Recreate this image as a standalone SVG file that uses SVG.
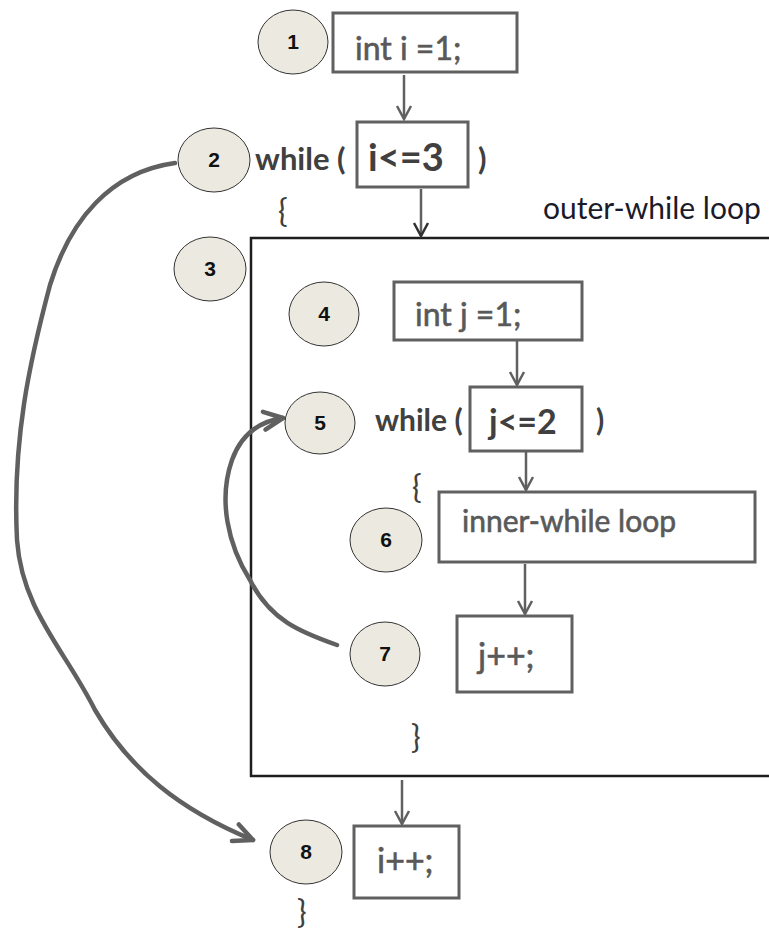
<svg xmlns="http://www.w3.org/2000/svg" width="769" height="932" viewBox="0 0 769 932">
<style>
.bg{fill:#ffffff}
.box{fill:#ffffff;stroke:#606060;stroke-width:3}
.outer{fill:none;stroke:#1e1e1e;stroke-width:2.5}
.num{fill:#ECEAE0;stroke:#333333;stroke-width:1}
.nt{font-family:"Liberation Sans",Arial,sans-serif;font-weight:bold;font-size:21px;fill:#111111;text-anchor:middle}
.code{font-family:Lato,"Open Sans",sans-serif;fill:#595959;stroke:#595959;stroke-width:0.6}
.kw{font-family:Lato,"Open Sans",sans-serif;fill:#404040;font-weight:bold}
.br{font-family:Lato,"Open Sans",sans-serif;fill:#404040;font-weight:normal}
.lbl{font-family:Lato,"Open Sans",sans-serif;fill:#1a1a2a}
.conn{fill:none;stroke:#606060;stroke-width:2.5}
.loop{fill:none;stroke:#606060;stroke-width:4.5;stroke-linecap:round}
</style>
<defs>
<marker id="ah" markerUnits="userSpaceOnUse" markerWidth="16" markerHeight="20" refX="14" refY="8" orient="auto" viewBox="0 0 16 16">
<path d="M1,1 L14,8 L1,15" fill="none" stroke="#606060" stroke-width="2.5"/>
</marker>
<marker id="ahd" markerUnits="userSpaceOnUse" markerWidth="16" markerHeight="20" refX="14" refY="8" orient="auto" viewBox="0 0 16 16">
<path d="M1,1 L14,8 L1,15" fill="none" stroke="#303030" stroke-width="2.5"/>
</marker>
<marker id="ahb" markerUnits="userSpaceOnUse" markerWidth="26" markerHeight="26" refX="22" refY="12" orient="auto" viewBox="0 0 26 24">
<path d="M3,3 L22,12 L3,21" fill="none" stroke="#606060" stroke-width="4.5" stroke-linecap="round" stroke-linejoin="round"/>
</marker>
</defs>
<rect class="bg" x="0" y="0" width="769" height="932"/>

<g id="outer-loop">
<rect class="outer" x="251" y="238" width="540" height="538"/>
<text class="lbl" x="543" y="219" font-size="30">outer-while loop</text>
</g>

<g id="connectors">
<line class="conn" x1="404" y1="75" x2="404" y2="119" marker-end="url(#ah)"/>
<line class="conn" x1="421" y1="189" x2="421" y2="236" stroke="#303030" marker-end="url(#ahd)"/>
<line class="conn" x1="517" y1="341" x2="517" y2="385" marker-end="url(#ah)"/>
<line class="conn" x1="526" y1="452" x2="526" y2="490" marker-end="url(#ah)"/>
<line class="conn" x1="525" y1="564" x2="525" y2="614" marker-end="url(#ah)"/>
<line class="conn" x1="402" y1="780" x2="402" y2="824" marker-end="url(#ah)"/>
<path class="loop" d="M175,163 C110,172 70,220 50,285 C30,360 12,440 17,540 C22,610 65,650 95,710 C130,770 180,810 253,840" marker-end="url(#ahb)"/>
<path class="loop" d="M337,645 C300,632 270,620 250,580 C228,545 218,500 232,460 C240,438 255,422 283,418" marker-end="url(#ahb)"/>
</g>

<g id="n1">
<ellipse class="num" cx="293" cy="42" rx="35" ry="32"/>
<text class="nt" x="293" y="49">1</text>
<rect class="box" x="333" y="13" width="184" height="59"/>
<text class="code" x="355" y="60" font-size="32">int i =1;</text>
</g>

<g id="n2">
<ellipse class="num" cx="214" cy="160" rx="36" ry="32"/>
<text class="nt" x="214" y="167">2</text>
<text class="kw" x="255" y="170" font-size="31">while (</text>
<rect class="box" x="357" y="122" width="111" height="65"/>
<text class="kw" x="368" y="171" font-size="38">i&lt;=3</text>
<text class="kw" x="478" y="170" font-size="31">)</text>
<text class="br" x="278" y="222" font-size="32">{</text>
</g>

<g id="n3">
<ellipse class="num" cx="210" cy="269" rx="36" ry="32"/>
<text class="nt" x="210" y="276">3</text>
</g>

<g id="n4">
<ellipse class="num" cx="324" cy="314" rx="35" ry="32"/>
<text class="nt" x="324" y="321">4</text>
<rect class="box" x="394" y="282" width="188" height="58"/>
<text class="code" x="415" y="326" font-size="32">int j =1;</text>
</g>

<g id="n5">
<ellipse class="num" cx="320" cy="423" rx="35" ry="31"/>
<text class="nt" x="320" y="430">5</text>
<text class="kw" x="375" y="431" font-size="30">while (</text>
<rect class="box" x="470" y="387" width="112" height="64"/>
<text class="kw" x="489" y="434" font-size="34">j&lt;=2</text>
<text class="kw" x="596" y="431" font-size="30">)</text>
<text class="br" x="412" y="498" font-size="32">{</text>
</g>

<g id="n6">
<ellipse class="num" cx="386" cy="540" rx="36" ry="32"/>
<text class="nt" x="386" y="547">6</text>
<rect class="box" x="439" y="492" width="316" height="70"/>
<text class="code" x="462" y="532" font-size="30">inner-while loop</text>
</g>

<g id="n7">
<ellipse class="num" cx="385" cy="654" rx="35" ry="32"/>
<text class="nt" x="385" y="661">7</text>
<rect class="box" x="457" y="616" width="115" height="76"/>
<text class="code" x="478" y="668" font-size="34">j++;</text>
<text class="br" x="411" y="748" font-size="32">}</text>
</g>

<g id="n8">
<ellipse class="num" cx="306" cy="852" rx="36" ry="32"/>
<text class="nt" x="306" y="859">8</text>
<rect class="box" x="354" y="826" width="105" height="72"/>
<text class="code" x="377" y="873" font-size="34">i++;</text>
<text class="br" x="297" y="923" font-size="32">}</text>
</g>
</svg>
